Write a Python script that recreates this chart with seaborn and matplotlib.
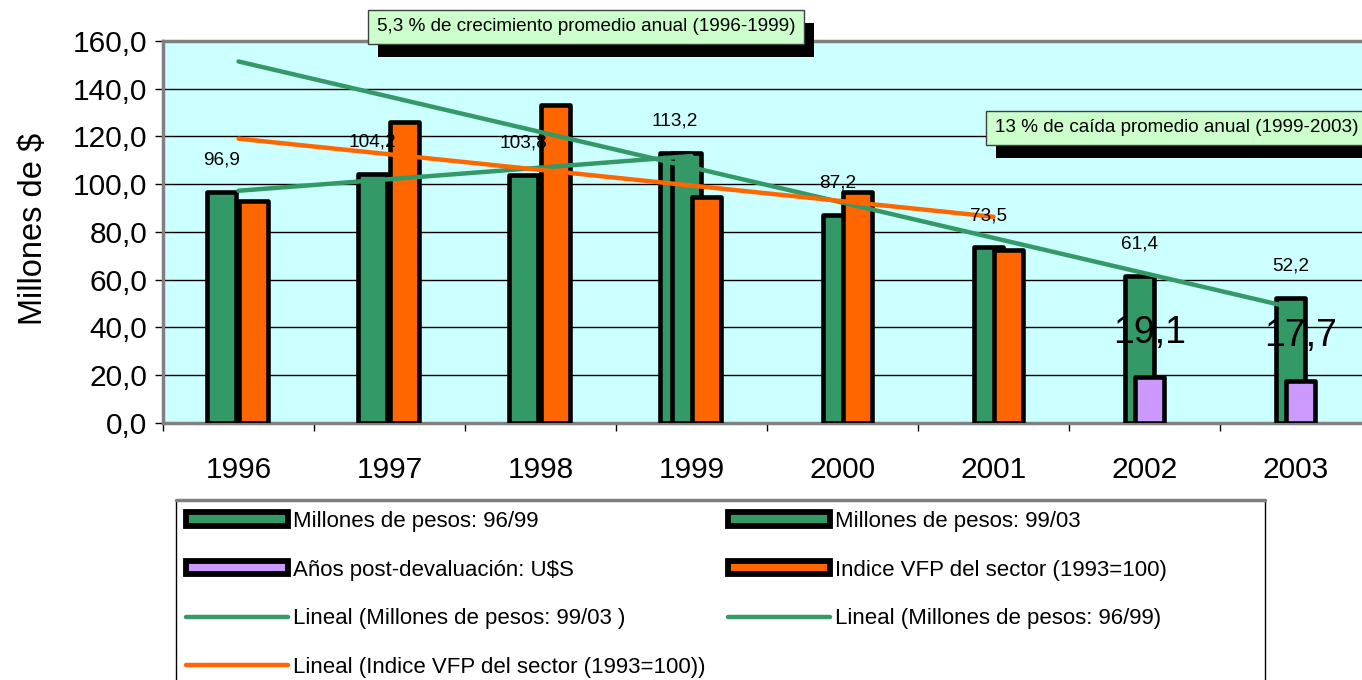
import numpy as np
import matplotlib
matplotlib.use("Agg")
import matplotlib.pyplot as plt
import matplotlib.patheffects as pe
from matplotlib.patches import Patch, Rectangle
from matplotlib.lines import Line2D
from matplotlib.ticker import FuncFormatter, MultipleLocator
import seaborn as sns

# data
years = ["1996", "1997", "1998", "1999", "2000", "2001", "2002", "2003"]
pesos_96_99 = [96.9, 104.2, 103.8, 113.2]            # 1996-1999
pesos_99_03 = [113.2, 87.2, 73.5, 61.4, 52.2]        # 1999-2003
usd_post = [19.1, 17.7]                              # 2002-2003
indice_vfp = [93.1, 126.0, 133.2, 94.5, 96.9, 72.5]  # 1996-2001

GREEN = "#339966"
ORANGE = "#FF6600"
PURPLE = "#CC99FF"
BG = "#CCFFFF"

sns.set_style("white")
plt.rcParams["font.family"] = ["Liberation Sans", "DejaVu Sans"]
plt.rcParams["text.color"] = "black"
plt.rcParams["axes.labelcolor"] = "black"
plt.rcParams["xtick.color"] = "black"
plt.rcParams["ytick.color"] = "black"


def fmt(v):
    return f"{v:.1f}".replace(".", ",")


fig = plt.figure(figsize=(13.62, 6.8), dpi=100)
ax = fig.add_axes([0.1197, 0.378, 0.887, 0.5618])
ax.set_facecolor(BG)

idx = np.arange(len(years))
i_96 = idx[0:4]
i_99 = idx[3:8]
i_usd = idx[6:8]
i_vfp = idx[0:6]

# bars, Excel-style overlapping series
series = [
    (i_96, pesos_96_99, GREEN, -0.115),
    (i_99, pesos_99_03, GREEN, -0.035),
    (i_usd, usd_post, PURPLE, 0.033),
    (i_vfp, indice_vfp, ORANGE, 0.10),
]
for pos, vals, col, off in series:
    sns.barplot(x=pos + off, y=vals, native_scale=True, width=0.19, color=col,
                saturation=1, edgecolor="black", linewidth=3.3, errorbar=None,
                ax=ax, zorder=3)
for p in ax.patches:
    p.set_joinstyle("round")

# linear trendlines
trends = [
    (i_96, pesos_96_99, GREEN, np.array([0, 3])),
    (i_99, pesos_99_03, GREEN, np.array([0, 7])),
    (i_vfp, indice_vfp, ORANGE, np.array([0, 5])),
]
for pos, vals, col, span in trends:
    m, b = np.polyfit(pos, vals, 1)
    sns.lineplot(x=span, y=m * span + b, color=col, linewidth=3.2, ax=ax, zorder=4)

# value labels
for pos, vals, off in [(i_96, pesos_96_99, -0.115), (i_99[1:], pesos_99_03[1:], -0.035)]:
    for p, v in zip(pos, vals):
        ax.annotate(fmt(v), (p + off, v), xytext=(0, 23), textcoords="offset points",
                    ha="center", va="center", fontsize=13.7, zorder=6)
for p, v in zip(i_usd, usd_post):
    ax.annotate(fmt(v), (p + 0.033, v), xytext=(0, 32), textcoords="offset points",
                ha="center", va="center", fontsize=27, zorder=6)

# axes
ax.set_xlim(-0.5, 7.5)
ax.set_ylim(0, 160)
ax.yaxis.set_major_locator(MultipleLocator(20))
ax.yaxis.set_major_formatter(FuncFormatter(lambda v, p: fmt(v)))
ax.grid(axis="y", color="black", linewidth=1)
ax.grid(axis="x", visible=False)
ax.set_axisbelow(True)
ax.set_xticks(idx)
ax.set_xticklabels(years)
ax.set_xticks(np.arange(-0.5, 8, 1), minor=True)
ax.tick_params(axis="x", which="major", bottom=True, length=0, pad=24, labelsize=21.5)
ax.tick_params(axis="x", which="minor", bottom=True, length=5.8, width=1,
               color="black", direction="out")
ax.tick_params(axis="y", left=True, length=5.8, width=1, color="black",
               direction="out", pad=5.5, labelsize=21.5)
for s in ax.spines.values():
    s.set_color("#808080")
    s.set_linewidth(2.5)
ax.set_xlabel("")
ax.set_ylabel(r"Millones de \$", fontsize=23.5)
ax.yaxis.set_label_coords(-0.094, 0.508)

# annotation boxes with drop shadow
notes = [
    ("5,3 % de crecimiento promedio anual (1996-1999)", 0.4302, 0.9603, "center"),
    ("13 % de caída promedio anual (1999-2003)", 0.7303, 0.8125, "left"),
]
for txt, x, y, ha in notes:
    t = fig.text(x, y, txt, ha=ha, va="center", fontsize=13.6, zorder=8,
                 bbox=dict(boxstyle="square,pad=0.45", facecolor="#CCFFCC",
                           edgecolor="#404040", linewidth=1))
    t.get_bbox_patch().set_path_effects([
        pe.SimplePatchShadow(offset=(7.2, -9.4), shadow_rgbFace="black", alpha=1),
        pe.Normal()])

# legend
def bar_key(c):
    return Patch(facecolor=c, edgecolor="black", linewidth=4.2)


def line_key(c):
    return Line2D([], [], color=c, linewidth=3.2)


handles = [bar_key(GREEN), bar_key(PURPLE), line_key(GREEN), line_key(ORANGE),
           bar_key(GREEN), bar_key(ORANGE), line_key(GREEN)]
labels = ["Millones de pesos: 96/99", r"Años post-devaluación: U\$S",
          "Lineal (Millones de pesos: 99/03 )", "Lineal (Indice VFP del sector (1993=100))",
          "Millones de pesos: 99/03", "Indice VFP del sector (1993=100)",
          "Lineal (Millones de pesos: 96/99)"]
fig.legend(handles=handles, labels=labels, ncol=2, loc="upper left",
           bbox_to_anchor=(186 / 1362, 1 - 511 / 680), frameon=False, fontsize=16,
           handlelength=4.6, handleheight=0.55, handletextpad=0.22,
           columnspacing=1.0, labelspacing=1.24, borderpad=0, borderaxespad=0)
fig.add_artist(Rectangle((176 / 1362, -0.02), (1265 - 176) / 1362, 180 / 680 + 0.02,
                         transform=fig.transFigure, fill=False, edgecolor="black",
                         linewidth=1))
fig.add_artist(Line2D([176 / 1362, 1265 / 1362], [1 - 500 / 680] * 2,
                      transform=fig.transFigure, color="#808080", linewidth=2.5))

fig.savefig("out.png", dpi=100)
